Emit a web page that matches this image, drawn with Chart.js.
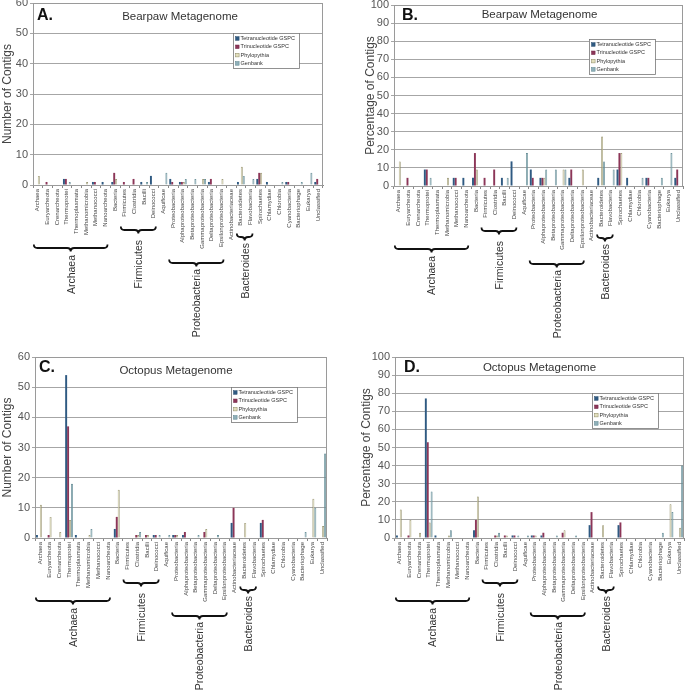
<!DOCTYPE html>
<html>
<head>
<meta charset="utf-8">
<title>Metagenome contig classification</title>
<script src="https://cdn.jsdelivr.net/npm/chart.js@4.4.1/dist/chart.umd.min.js"></script>
<style>
    html, body { margin: 0; padding: 0; background: #fff; }
    #figure { position: relative; width: 685px; height: 690px; overflow: hidden; }
    .panel { position: absolute; }
    #panelA { left: 0; top: 0; }
    #panelB { left: 345px; top: 0; }
    #panelC { left: 0; top: 345px; }
    #panelD { left: 345px; top: 345px; }
</style>
</head>
<body>
<div id="figure">
    <div class="panel" id="panelA"><canvas id="chartA" width="345" height="345"></canvas></div>
    <div class="panel" id="panelB"><canvas id="chartB" width="340" height="345"></canvas></div>
    <div class="panel" id="panelC"><canvas id="chartC" width="345" height="345"></canvas></div>
    <div class="panel" id="panelD"><canvas id="chartD" width="340" height="345"></canvas></div>
</div>
<script>
const categories = [
    'Archaea', 'Euryarcheota', 'Crenarcheota', 'Thermoprotei', 'Thermoplasmata',
    'Methanomicrobia', 'Methanococci', 'Nanoarcheota', 'Bacteria', 'Firmicutes',
    'Clostridia', 'Bacilli', 'Deinococci', 'Aquificae', 'Proteobacteria',
    'Alphaproteobacteria', 'Betaproteobacteria', 'Gammaproteobacteria', 'Deltaproteobacteria', 'Epsilonproteobacteria',
    'Actinobacteriaceae', 'Bacteroidetes', 'Flavobacteria', 'Spirochaetes', 'Chlamydiae',
    'Chlorobia', 'Cyanobacteria', 'Bacteriophage', 'Eukarya', 'Unclassified'
];

const seriesNames = ['Tetranucleotide GSPC', 'Trinucleotide GSPC', 'Phylopythia', 'Genbank'];

// brackets under the axis: first and last category index of each group
const groupNames = ['Archaea', 'Firmicutes', 'Proteobacteria', 'Bacteroides'];
const groupStart = [0, 9, 14, 21];
const groupEnd = [7, 12, 19, 22];

// Bearpaw, number of contigs
const bearpawTetra   = [0, 0, 0, 2, 0, 0, 1, 1, 1, 0, 0, 1, 3, 0, 2, 1, 0, 0, 1, 0, 0, 1, 0, 2, 1, 0, 1, 0, 0, 1];
const bearpawTri     = [0, 1, 0, 2, 0, 0, 1, 0, 4, 1, 2, 0, 0, 0, 1, 1, 0, 0, 2, 0, 0, 0, 0, 4, 0, 0, 1, 0, 0, 2];
const bearpawPhylo   = [3, 0, 0, 0, 0, 1, 0, 0, 2, 0, 0, 0, 0, 0, 0, 1, 0, 2, 0, 2, 0, 6, 0, 4, 0, 0, 0, 0, 0, 0];
const bearpawGenbank = [0, 0, 0, 1, 0, 0, 0, 0, 0, 0, 0, 1, 0, 4, 0, 2, 2, 2, 0, 0, 0, 3, 2, 0, 0, 1, 0, 1, 4, 0];

// Bearpaw, percentage of contigs
const bearpawTetraPct   = [0, 0, 0, 9.1, 0, 0, 4.5, 4.5, 4.5, 0, 0, 4.5, 13.6, 0, 9.1, 4.5, 0, 0, 4.5, 0, 0, 4.5, 0, 9.1, 4.5, 0, 4.5, 0, 0, 4.5];
const bearpawTriPct     = [0, 4.5, 0, 9.1, 0, 0, 4.5, 0, 18.2, 4.5, 9.1, 0, 0, 0, 4.5, 4.5, 0, 0, 9.1, 0, 0, 0, 0, 18.2, 0, 0, 4.5, 0, 0, 9.1];
const bearpawPhyloPct   = [13.6, 0, 0, 0, 0, 4.5, 0, 0, 9.1, 0, 0, 0, 0, 0, 0, 4.5, 0, 9.1, 0, 9.1, 0, 27.3, 0, 18.2, 0, 0, 0, 0, 0, 0];
const bearpawGenbankPct = [0, 0, 0, 4.5, 0, 0, 0, 0, 0, 0, 0, 4.5, 0, 18.2, 0, 9.1, 9.1, 9.1, 0, 0, 0, 13.6, 9.1, 0, 0, 4.5, 0, 4.5, 18.2, 0];

// Octopus, number of contigs
const octopusTetra   = [1, 0, 0, 54, 1, 0, 0, 0, 3, 0, 0, 0, 1, 0, 1, 1, 0, 0, 0, 0, 5, 0, 0, 5, 0, 0, 0, 0, 0, 0];
const octopusTri     = [0, 1, 0, 37, 0, 0, 0, 0, 7, 0, 1, 1, 1, 0, 1, 2, 0, 2, 0, 0, 10, 0, 0, 6, 0, 0, 0, 0, 0, 0];
const octopusPhylo   = [11, 7, 2, 6, 0, 1, 0, 0, 16, 0, 1, 1, 0, 0, 1, 0, 0, 3, 0, 0, 0, 5, 0, 0, 0, 0, 0, 0, 13, 4];
const octopusGenbank = [0, 0, 0, 18, 0, 3, 0, 0, 0, 0, 2, 0, 1, 1, 0, 0, 1, 0, 1, 0, 0, 0, 0, 0, 0, 0, 0, 2, 10, 28];

// Octopus, percentage of contigs
const octopusTetraPct   = [1.4, 0, 0, 77.1, 1.4, 0, 0, 0, 4.3, 0, 0, 0, 1.4, 0, 1.4, 1.4, 0, 0, 0, 0, 7.1, 0, 0, 7.1, 0, 0, 0, 0, 0, 0];
const octopusTriPct     = [0, 1.4, 0, 52.9, 0, 0, 0, 0, 10, 0, 1.4, 1.4, 1.4, 0, 1.4, 2.9, 0, 2.9, 0, 0, 14.3, 0, 0, 8.6, 0, 0, 0, 0, 0, 0];
const octopusPhyloPct   = [15.7, 10, 2.9, 8.6, 0, 1.4, 0, 0, 22.9, 0, 1.4, 1.4, 0, 0, 1.4, 0, 0, 4.3, 0, 0, 0, 7.1, 0, 0, 0, 0, 0, 0, 18.6, 5.7];
const octopusGenbankPct = [0, 0, 0, 25.7, 0, 4.3, 0, 0, 0, 0, 2.9, 0, 1.4, 1.4, 0, 0, 1.4, 0, 1.4, 0, 0, 0, 0, 0, 0, 0, 0, 2.9, 14.3, 40];

// styles
const seriesFill = ['#2f5a82', '#8c3658', '#e2dfbd', '#8fb0b9'];
const seriesEdge = ['#24496b', '#732a48', '#8a8660', '#55808a'];
const seriesBorder = [0, 0, 0.7, 0.7];
const braceOffset = [63, 45, 78, 52];
const groupLabelOffset = [70, 55, 84, 58];
const FONT = "'Liberation Sans', Arial, sans-serif";

Chart.defaults.font.family = FONT;
Chart.defaults.color = '#444';

function drawBrace(ctx, x1, x2, y, r) {
    const xm = (x1 + x2) / 2;
    ctx.beginPath();
    ctx.moveTo(x1, y - r);
    ctx.quadraticCurveTo(x1, y, x1 + r, y);
    ctx.lineTo(xm - r, y);
    ctx.quadraticCurveTo(xm, y, xm, y + r);
    ctx.quadraticCurveTo(xm, y, xm + r, y);
    ctx.lineTo(x2 - r, y);
    ctx.quadraticCurveTo(x2, y, x2, y - r);
    ctx.stroke();
}

// letter, title, legend box and the group brackets are drawn on top
const panelDecor = {
    id: 'panelDecor',
    afterDraw(chart, args, opts) {
        const ctx = chart.ctx;
        const area = chart.chartArea;
        const x = chart.scales.x;
        ctx.save();

        // frame of plot area
        ctx.strokeStyle = '#9a9a9a';
        ctx.lineWidth = 1;
        ctx.strokeRect(area.left + 0.5, area.top + 0.5, area.right - area.left - 1, area.bottom - area.top);

        ctx.fillStyle = '#111';
        ctx.font = `bold 16px ${FONT}`;
        ctx.textAlign = 'left';
        ctx.textBaseline = 'alphabetic';
        ctx.fillText(opts.letter, area.left + opts.letterDx, area.top + opts.letterDy);

        ctx.fillStyle = '#333';
        ctx.font = `11.5px ${FONT}`;
        ctx.textAlign = 'center';
        ctx.textBaseline = 'middle';
        ctx.fillText(opts.title, (area.left + area.right) / 2 + opts.titleDx, area.top + opts.titleDy);

        // legend
        const lx = area.left + opts.legendX;
        const ly = area.top + opts.legendY;
        ctx.fillStyle = '#fff';
        ctx.fillRect(lx, ly, 66, 35);
        ctx.strokeStyle = '#777';
        ctx.lineWidth = 0.8;
        ctx.strokeRect(lx + 0.5, ly + 0.5, 66, 35);
        ctx.font = `5.5px ${FONT}`;
        ctx.textAlign = 'left';
        seriesNames.forEach((name, i) => {
            const ry = ly + 5.5 + i * 8.3;
            ctx.fillStyle = seriesFill[i];
            ctx.fillRect(lx + 2.5, ry - 1.8, 3.6, 3.6);
            ctx.strokeStyle = seriesEdge[i];
            ctx.lineWidth = 0.5;
            ctx.strokeRect(lx + 2.5, ry - 1.8, 3.6, 3.6);
            ctx.fillStyle = '#333';
            ctx.fillText(name, lx + 7.5, ry);
        });

        // group brackets
        ctx.strokeStyle = '#111';
        ctx.lineWidth = 1.8;
        ctx.fillStyle = '#333';
        ctx.font = `10.5px ${FONT}`;
        groupNames.forEach((name, i) => {
            const x1 = x.getPixelForValue(groupStart[i]) - 4;
            const x2 = x.getPixelForValue(groupEnd[i]) + 2;
            const cx = (x1 + x2) / 2;
            drawBrace(ctx, x1, x2, area.bottom + braceOffset[i], 3.5);
            ctx.save();
            ctx.translate(cx + 1, area.bottom + groupLabelOffset[i]);
            ctx.rotate(-Math.PI / 2);
            ctx.textAlign = 'right';
            ctx.textBaseline = 'middle';
            ctx.fillText(name, 0, 0);
            ctx.restore();
        });

        ctx.restore();
    }
};

function buildChart(p) {
    const ctx = document.getElementById(p.id).getContext('2d');
    const canvasHeight = ctx.canvas.height;
    return new Chart(ctx, {
        type: 'bar',
        data: {
            labels: categories,
            datasets: p.series.map((values, i) => ({
                label: seriesNames[i],
                data: values,
                backgroundColor: seriesFill[i],
                borderColor: seriesEdge[i],
                borderWidth: seriesBorder[i],
                categoryPercentage: 0.8,
                barPercentage: 1.0
            }))
        },
        options: {
            responsive: false,
            animation: false,
            devicePixelRatio: 1,
            layout: { padding: { left: p.padLeft, top: p.top, right: p.padRight, bottom: 0 } },
            plugins: {
                legend: { display: false },
                tooltip: { enabled: false },
                panelDecor: p.decor
            },
            scales: {
                x: {
                    ticks: {
                        autoSkip: false,
                        minRotation: 90,
                        maxRotation: 90,
                        padding: 1,
                        color: '#444',
                        font: { size: 6 }
                    },
                    grid: { drawOnChartArea: false, tickLength: 3, color: '#888' },
                    border: { color: '#888' },
                    afterFit(scale) {
                        scale.height = canvasHeight - p.bottom;
                        scale.paddingLeft = 0;
                        scale.paddingRight = 0;
                    }
                },
                y: {
                    min: 0,
                    max: p.yMax,
                    ticks: { stepSize: 10, padding: 2, color: '#555', font: { size: 11 } },
                    grid: { color: '#a6a6a6', tickLength: 3 },
                    border: { color: '#888' },
                    title: {
                        display: true,
                        text: p.yTitle,
                        color: '#444',
                        padding: 0,
                        font: { size: 12 }
                    },
                    afterFit(scale) {
                        scale.width = p.yWidth;
                        scale.paddingTop = 0;
                        scale.paddingBottom = 0;
                    }
                }
            }
        },
        plugins: [panelDecor]
    });
}

const panels = [
    {
        id: 'chartA', yMax: 60, yTitle: 'Number of Contigs',
        series: [bearpawTetra, bearpawTri, bearpawPhylo, bearpawGenbank],
        padLeft: 0, yWidth: 33, top: 3, bottom: 185, padRight: 22,
        decor: { letter: 'A.', letterDx: 4, letterDy: 17, title: 'Bearpaw Metagenome', titleDx: 2, titleDy: 14, legendX: 200, legendY: 30 }
    },
    {
        id: 'chartB', yMax: 100, yTitle: 'Percentage of Contigs',
        series: [bearpawTetraPct, bearpawTriPct, bearpawPhyloPct, bearpawGenbankPct],
        padLeft: 18, yWidth: 31, top: 5, bottom: 186, padRight: 2,
        decor: { letter: 'B.', letterDx: 8, letterDy: 15, title: 'Bearpaw Metagenome', titleDx: 1, titleDy: 10, legendX: 195, legendY: 34 }
    },
    {
        id: 'chartC', yMax: 60, yTitle: 'Number of Contigs',
        series: [octopusTetra, octopusTri, octopusPhylo, octopusGenbank],
        padLeft: 0, yWidth: 35, top: 12, bottom: 193, padRight: 18,
        decor: { letter: 'C.', letterDx: 4, letterDy: 15, title: 'Octopus Metagenome', titleDx: -5, titleDy: 14, legendX: 196, legendY: 30 }
    },
    {
        id: 'chartD', yMax: 100, yTitle: 'Percentage of Contigs',
        series: [octopusTetraPct, octopusTriPct, octopusPhyloPct, octopusGenbankPct],
        padLeft: 14, yWidth: 36, top: 12, bottom: 193, padRight: 1,
        decor: { letter: 'D.', letterDx: 9, letterDy: 15, title: 'Octopus Metagenome', titleDx: 0, titleDy: 11, legendX: 197, legendY: 36 }
    }
];

panels.forEach(p => buildChart(p));
</script>
</body>
</html>
